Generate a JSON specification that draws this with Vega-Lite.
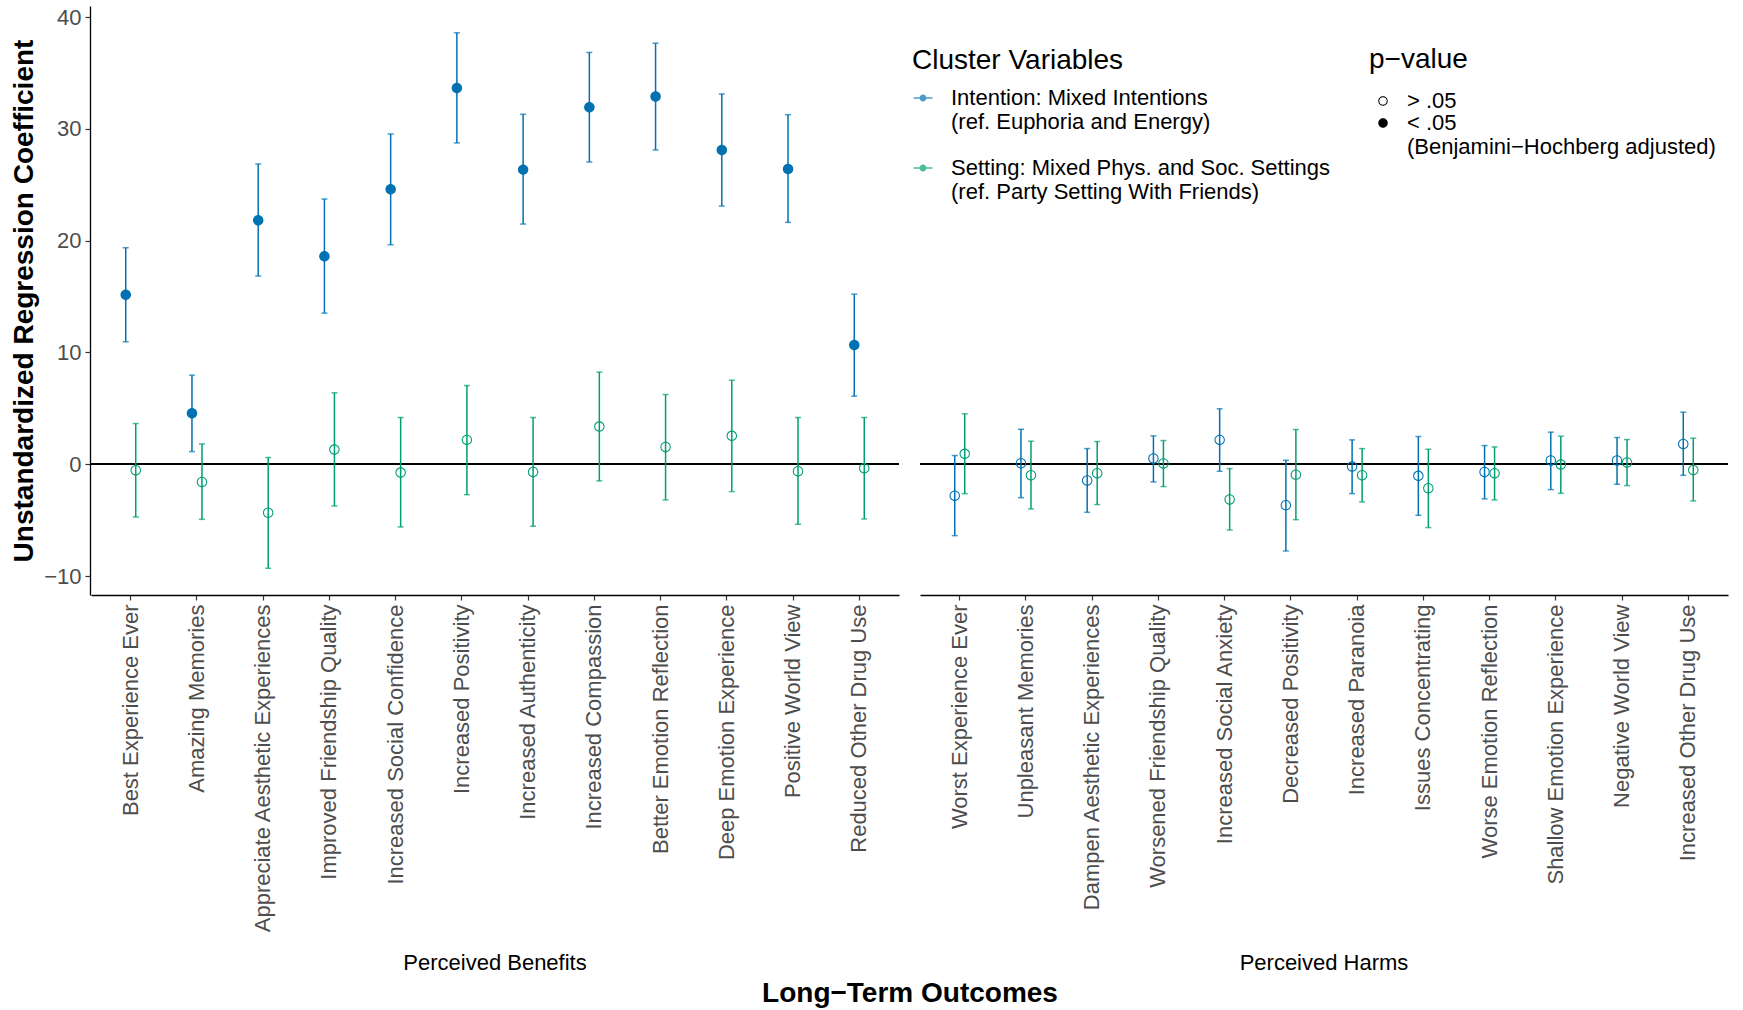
{
  "$schema": "https://vega.github.io/schema/vega-lite/v6.json",
  "padding": {"left": 10, "top": 6, "right": 16, "bottom": 4},
  "data": {"values": [
    {"o": "Best Experience Ever", "g": "Perceived Benefits", "c": "Intention", "e": 15.16, "l": 10.96, "h": 19.37, "p": "< .05"},
    {"o": "Amazing Memories", "g": "Perceived Benefits", "c": "Intention", "e": 4.57, "l": 1.13, "h": 7.97, "p": "< .05"},
    {"o": "Appreciate Aesthetic Experiences", "g": "Perceived Benefits", "c": "Intention", "e": 21.82, "l": 16.84, "h": 26.87, "p": "< .05"},
    {"o": "Improved Friendship Quality", "g": "Perceived Benefits", "c": "Intention", "e": 18.6, "l": 13.52, "h": 23.73, "p": "< .05"},
    {"o": "Increased Social Confidence", "g": "Perceived Benefits", "c": "Intention", "e": 24.6, "l": 19.64, "h": 29.55, "p": "< .05"},
    {"o": "Increased Positivity", "g": "Perceived Benefits", "c": "Intention", "e": 33.67, "l": 28.75, "h": 38.6, "p": "< .05"},
    {"o": "Increased Authenticity", "g": "Perceived Benefits", "c": "Intention", "e": 26.36, "l": 21.49, "h": 31.31, "p": "< .05"},
    {"o": "Increased Compassion", "g": "Perceived Benefits", "c": "Intention", "e": 31.94, "l": 27.04, "h": 36.84, "p": "< .05"},
    {"o": "Better Emotion Reflection", "g": "Perceived Benefits", "c": "Intention", "e": 32.9, "l": 28.12, "h": 37.67, "p": "< .05"},
    {"o": "Deep Emotion Experience", "g": "Perceived Benefits", "c": "Intention", "e": 28.12, "l": 23.1, "h": 33.13, "p": "< .05"},
    {"o": "Positive World View", "g": "Perceived Benefits", "c": "Intention", "e": 26.42, "l": 21.64, "h": 31.28, "p": "< .05"},
    {"o": "Reduced Other Drug Use", "g": "Perceived Benefits", "c": "Intention", "e": 10.66, "l": 6.09, "h": 15.22, "p": "< .05"},
    {"o": "Best Experience Ever", "g": "Perceived Benefits", "c": "Setting", "e": -0.54, "l": -4.72, "h": 3.64, "p": "> .05"},
    {"o": "Amazing Memories", "g": "Perceived Benefits", "c": "Setting", "e": -1.58, "l": -4.93, "h": 1.82, "p": "> .05"},
    {"o": "Appreciate Aesthetic Experiences", "g": "Perceived Benefits", "c": "Setting", "e": -4.33, "l": -9.31, "h": 0.6, "p": "> .05"},
    {"o": "Improved Friendship Quality", "g": "Perceived Benefits", "c": "Setting", "e": 1.31, "l": -3.73, "h": 6.39, "p": "> .05"},
    {"o": "Increased Social Confidence", "g": "Perceived Benefits", "c": "Setting", "e": -0.75, "l": -5.61, "h": 4.18, "p": "> .05"},
    {"o": "Increased Positivity", "g": "Perceived Benefits", "c": "Setting", "e": 2.18, "l": -2.72, "h": 7.04, "p": "> .05"},
    {"o": "Increased Authenticity", "g": "Perceived Benefits", "c": "Setting", "e": -0.69, "l": -5.55, "h": 4.18, "p": "> .05"},
    {"o": "Increased Compassion", "g": "Perceived Benefits", "c": "Setting", "e": 3.37, "l": -1.49, "h": 8.24, "p": "> .05"},
    {"o": "Better Emotion Reflection", "g": "Perceived Benefits", "c": "Setting", "e": 1.55, "l": -3.19, "h": 6.24, "p": "> .05"},
    {"o": "Deep Emotion Experience", "g": "Perceived Benefits", "c": "Setting", "e": 2.54, "l": -2.45, "h": 7.52, "p": "> .05"},
    {"o": "Positive World View", "g": "Perceived Benefits", "c": "Setting", "e": -0.63, "l": -5.37, "h": 4.18, "p": "> .05"},
    {"o": "Reduced Other Drug Use", "g": "Perceived Benefits", "c": "Setting", "e": -0.36, "l": -4.9, "h": 4.18, "p": "> .05"},
    {"o": "Worst Experience Ever", "g": "Perceived Harms", "c": "Intention", "e": -2.81, "l": -6.39, "h": 0.78, "p": "> .05"},
    {"o": "Unpleasant Memories", "g": "Perceived Harms", "c": "Intention", "e": 0.09, "l": -2.99, "h": 3.13, "p": "> .05"},
    {"o": "Dampen Aesthetic Experiences", "g": "Perceived Harms", "c": "Intention", "e": -1.46, "l": -4.3, "h": 1.4, "p": "> .05"},
    {"o": "Worsened Friendship Quality", "g": "Perceived Harms", "c": "Intention", "e": 0.51, "l": -1.58, "h": 2.54, "p": "> .05"},
    {"o": "Increased Social Anxiety", "g": "Perceived Harms", "c": "Intention", "e": 2.18, "l": -0.63, "h": 4.96, "p": "> .05"},
    {"o": "Decreased Positivity", "g": "Perceived Harms", "c": "Intention", "e": -3.67, "l": -7.76, "h": 0.36, "p": "> .05"},
    {"o": "Increased Paranoia", "g": "Perceived Harms", "c": "Intention", "e": -0.21, "l": -2.63, "h": 2.18, "p": "> .05"},
    {"o": "Issues Concentrating", "g": "Perceived Harms", "c": "Intention", "e": -1.04, "l": -4.57, "h": 2.48, "p": "> .05"},
    {"o": "Worse Emotion Reflection", "g": "Perceived Harms", "c": "Intention", "e": -0.69, "l": -3.1, "h": 1.67, "p": "> .05"},
    {"o": "Shallow Emotion Experience", "g": "Perceived Harms", "c": "Intention", "e": 0.33, "l": -2.27, "h": 2.87, "p": "> .05"},
    {"o": "Negative World View", "g": "Perceived Harms", "c": "Intention", "e": 0.33, "l": -1.79, "h": 2.39, "p": "> .05"},
    {"o": "Increased Other Drug Use", "g": "Perceived Harms", "c": "Intention", "e": 1.82, "l": -0.99, "h": 4.66, "p": "> .05"},
    {"o": "Worst Experience Ever", "g": "Perceived Harms", "c": "Setting", "e": 0.93, "l": -2.63, "h": 4.51, "p": "> .05"},
    {"o": "Unpleasant Memories", "g": "Perceived Harms", "c": "Setting", "e": -0.99, "l": -4.0, "h": 2.06, "p": "> .05"},
    {"o": "Dampen Aesthetic Experiences", "g": "Perceived Harms", "c": "Setting", "e": -0.81, "l": -3.61, "h": 2.03, "p": "> .05"},
    {"o": "Worsened Friendship Quality", "g": "Perceived Harms", "c": "Setting", "e": 0.06, "l": -2.0, "h": 2.12, "p": "> .05"},
    {"o": "Increased Social Anxiety", "g": "Perceived Harms", "c": "Setting", "e": -3.16, "l": -5.88, "h": -0.39, "p": "> .05"},
    {"o": "Decreased Positivity", "g": "Perceived Harms", "c": "Setting", "e": -0.93, "l": -4.96, "h": 3.1, "p": "> .05"},
    {"o": "Increased Paranoia", "g": "Perceived Harms", "c": "Setting", "e": -0.99, "l": -3.37, "h": 1.4, "p": "> .05"},
    {"o": "Issues Concentrating", "g": "Perceived Harms", "c": "Setting", "e": -2.15, "l": -5.67, "h": 1.34, "p": "> .05"},
    {"o": "Worse Emotion Reflection", "g": "Perceived Harms", "c": "Setting", "e": -0.81, "l": -3.19, "h": 1.55, "p": "> .05"},
    {"o": "Shallow Emotion Experience", "g": "Perceived Harms", "c": "Setting", "e": -0.03, "l": -2.6, "h": 2.51, "p": "> .05"},
    {"o": "Negative World View", "g": "Perceived Harms", "c": "Setting", "e": 0.15, "l": -1.91, "h": 2.21, "p": "> .05"},
    {"o": "Increased Other Drug Use", "g": "Perceived Harms", "c": "Setting", "e": -0.51, "l": -3.28, "h": 2.33, "p": "> .05"}
  ]},
  "facet": {
    "column": {
      "field": "g", "type": "nominal",
      "sort": ["Perceived Benefits", "Perceived Harms"],
      "title": "Long−Term Outcomes",
      "header": {
        "labelOrient": "bottom", "titleOrient": "bottom",
        "labelFontSize": 22, "labelColor": "black", "labelPadding": 20,
        "titleFontSize": 28, "titleFontWeight": "bold", "titleColor": "black", "titlePadding": -4
      }
    }
  },
  "spacing": 19,
  "resolve": {"scale": {"x": "independent"}},
  "spec": {
    "width": 808,
    "height": 589,
    "encoding": {
      "x": {"field": "o", "type": "nominal", "sort": null, "title": null,
            "scale": {"type": "band", "paddingInner": 0, "paddingOuter": 0.1}},
      "y": {"type": "quantitative", "title": "Unstandardized Regression Coefficient",
            "scale": {"domain": [-11.7, 41.0], "nice": false, "zero": false},
            "axis": {"values": [-10, 0, 10, 20, 30, 40]}}
    },
    "layer": [
      {
        "mark": {"type": "rule", "color": "black", "strokeWidth": 1.3},
        "encoding": {"x": null, "y": {"datum": 0, "type": "quantitative"}}
      },
      {
        "transform": [{"filter": "datum.c == 'Intention'"}],
        "layer": [
          {"mark": {"type": "rule", "strokeWidth": 1.5, "xOffset": -5},
           "encoding": {"y": {"field": "l"}, "y2": {"field": "h"},
                        "color": {"field": "c", "type": "nominal",
                                  "scale": {"domain": ["Intention", "Setting"], "range": ["#0072B2", "#009E73"]}}}},
          {"mark": {"type": "tick", "size": 6, "thickness": 1.5, "xOffset": -5},
           "encoding": {"y": {"field": "l"}, "color": {"field": "c", "type": "nominal"}}},
          {"mark": {"type": "tick", "size": 6, "thickness": 1.5, "xOffset": -5},
           "encoding": {"y": {"field": "h"}, "color": {"field": "c", "type": "nominal"}}}
        ]
      },
      {
        "transform": [{"filter": "datum.c == 'Setting'"}],
        "layer": [
          {"mark": {"type": "rule", "strokeWidth": 1.5, "xOffset": 5},
           "encoding": {"y": {"field": "l"}, "y2": {"field": "h"},
                        "color": {"field": "c", "type": "nominal"}}},
          {"mark": {"type": "tick", "size": 6, "thickness": 1.5, "xOffset": 5},
           "encoding": {"y": {"field": "l"}, "color": {"field": "c", "type": "nominal"}}},
          {"mark": {"type": "tick", "size": 6, "thickness": 1.5, "xOffset": 5},
           "encoding": {"y": {"field": "h"}, "color": {"field": "c", "type": "nominal"}}}
        ]
      },
      {
        "transform": [{"filter": "datum.c == 'Intention'"}],
        "mark": {"type": "point", "filled": true, "opacity": 1, "size": 110, "strokeWidth": 0, "xOffset": -5},
        "encoding": {
          "y": {"field": "e"},
          "color": {"field": "c", "type": "nominal",
                    "legend": {
                      "title": "Cluster Variables",
                      "orient": "none", "legendX": 821, "legendY": 41,
                      "symbolType": "M-1,-0.08L1,-0.08L1,0.08L-1,0.08Z M0.36,0A0.36,0.36 0 1,1 -0.36,0A0.36,0.36 0 1,1 0.36,0Z",
                      "symbolSize": 361, "symbolStrokeWidth": 0, "symbolOpacity": 1,
                      "rowPadding": 24, "titlePadding": 12, "labelOffset": 17,
                      "labelExpr": "datum.value == 'Intention' ? ['Intention: Mixed Intentions', '(ref. Euphoria and Energy)'] : ['Setting: Mixed Phys. and Soc. Settings', '(ref. Party Setting With Friends)']"
                    }},
          "shape": {"field": "p", "type": "nominal",
                    "scale": {"domain": ["> .05", "< .05"],
                              "range": ["M1,0A1,1 0 1,0 -1,0A1,1 0 1,0 1,0Z M0.8,0A0.8,0.8 0 1,1 -0.8,0A0.8,0.8 0 1,1 0.8,0Z",
                                        "M1,0A1,1 0 1,1 -1,0A1,1 0 1,1 1,0Z"]},
                    "legend": {
                      "title": "p−value",
                      "orient": "none", "legendX": 1278, "legendY": 40,
                      "symbolSize": 90, "symbolStrokeWidth": 0, "symbolOffset": 3,
                      "symbolFillColor": "black", "symbolStrokeColor": "black", "symbolOpacity": 1,
                      "rowPadding": 0, "titlePadding": 16, "labelOffset": 13,
                      "labelExpr": "datum.value == '< .05' ? ['< .05', '(Benjamini−Hochberg adjusted)'] : datum.label"
                    }}
        }
      },
      {
        "transform": [{"filter": "datum.c == 'Setting'"}],
        "mark": {"type": "point", "filled": true, "opacity": 1, "size": 110, "strokeWidth": 0, "xOffset": 5},
        "encoding": {
          "y": {"field": "e"},
          "color": {"field": "c", "type": "nominal"},
          "shape": {"field": "p", "type": "nominal"}
        }
      }
    ]
  },
  "config": {
    "font": "Liberation Sans",
    "view": {"stroke": null},
    "axis": {
      "grid": false, "domainColor": "black", "domainWidth": 1.3,
      "tickColor": "#333333", "tickSize": 5, "tickWidth": 1.2,
      "labelColor": "#4d4d4d", "labelFontSize": 22, "labelPadding": 4, "labelLimit": 600,
      "titleFontSize": 28, "titleFontWeight": "bold", "titleColor": "black", "titlePadding": 5
    },
    "axisX": {"labelAngle": 270},
    "legend": {
      "titleFontSize": 28, "titleFontWeight": "normal", "titleColor": "black", "titleLimit": 600,
      "labelFontSize": 22, "labelColor": "black", "labelLimit": 600, "padding": 0
    }
  }
}
